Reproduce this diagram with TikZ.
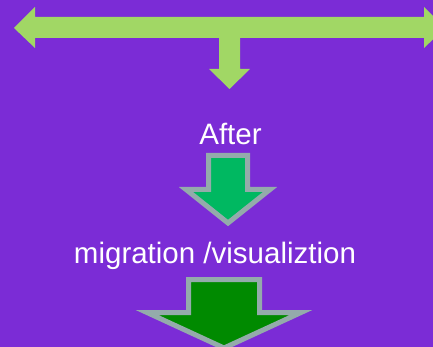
\documentclass[tikz,border=0pt]{standalone}
\usepackage{fontspec}
\setmainfont{Liberation Sans}
\usetikzlibrary{positioning}
\definecolor{bgpurple}{HTML}{7B2CD6}
\definecolor{limegreen}{HTML}{A1D765}
\definecolor{edgegray}{HTML}{94ABAB}
\definecolor{midgreen}{HTML}{00B861}
\definecolor{darkgreen}{HTML}{008A00}

\begin{document}
\begin{tikzpicture}[x=1pt,y=-1pt,
  label text/.style = {text=white,font=\fontsize{29.5}{35}\selectfont,anchor=base,inner sep=0pt},
  down arrow/.style = {draw=edgegray,line width=5pt,line join=miter}]
\fill[bgpurple] (0,0) rectangle (433,347);
\useasboundingbox (0,0) rectangle (433,347);
\fill[limegreen] (14,28) -- (35,7) -- (35,17) -- (424,17) -- (424,7) -- (445,28) -- (424,48)
    -- (424,38) -- (240,38) -- (240,69) -- (250,69) -- (229.5,89) -- (209,69) -- (219,69)
    -- (219,38) -- (35,38) -- (35,48) -- cycle;
\node[label text] (after) at (230.5,145) {After};
\draw[down arrow,fill=midgreen] (208.5,155.5) -- (247.5,155.5) -- (247.5,189.5) -- (270,189.5)
    -- (228,223) -- (186,189.5) -- (208.5,189.5) -- cycle;
\node[label text] (migration) at (215,263) {migration /visualiztion};
\draw[down arrow,fill=darkgreen] (188.5,279.5) -- (259.5,279.5) -- (259.5,312.5) -- (301,312.5)
    -- (224,348) -- (147,312.5) -- (188.5,312.5) -- cycle;
\end{tikzpicture}
\end{document}
